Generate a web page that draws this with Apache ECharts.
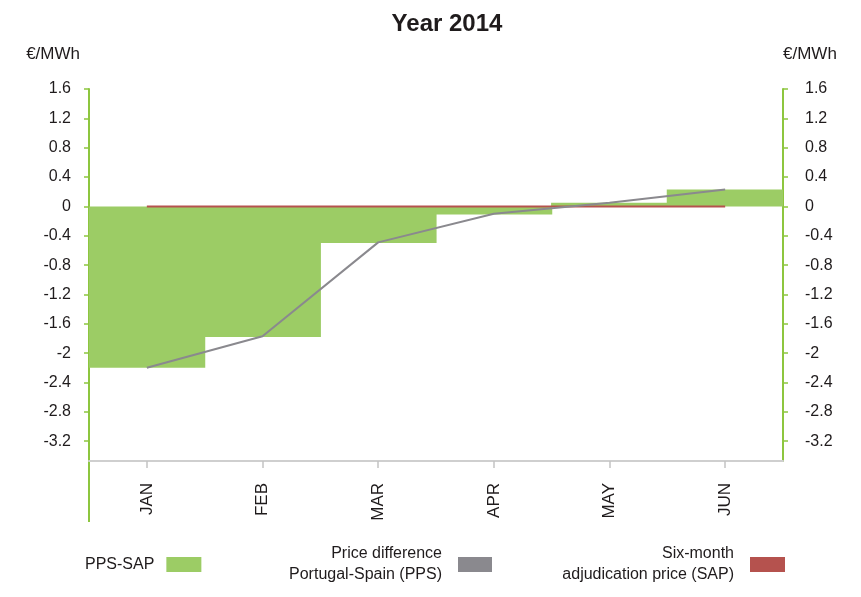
<!DOCTYPE html>
<html>
<head>
<meta charset="utf-8">
<script src="https://cdn.jsdelivr.net/npm/echarts@6/dist/echarts.min.js"></script>
<style>
  html, body { margin: 0; padding: 0; background: #fff; }
  #chart { width: 861px; height: 597px; }
</style>
</head>
<body>
<div id="chart"></div>
<script>
// Monthly price comparison, first half of 2014 (€/MWh)
const months = ['JAN', 'FEB', 'MAR', 'APR', 'MAY', 'JUN'];
const ppsMinusSap = [-2.2, -1.78, -0.5, -0.11, 0.05, 0.23];
const pps = [-2.2, -1.77, -0.49, -0.1, 0.05, 0.23];
const sap = [0, 0, 0, 0, 0, 0];
const yTicks = [1.6, 1.2, 0.8, 0.4, 0, -0.4, -0.8, -1.2, -1.6, -2, -2.4, -2.8, -3.2];

const FONT = '"Liberation Sans Narrow", "Liberation Sans", sans-serif';
const TEXT = '#1f1b1c';
const GREEN_AXIS = '#8dc63f';
const BAR = '#9ccc65';
const GREY = '#8a898e';
const RED = '#b5524e';

const Y_MIN = -3.47, Y_MAX = 1.6;

function valueAxis(side) {
  return {
    type: 'value',
    position: side,
    min: Y_MIN,
    max: Y_MAX,
    name: '€/MWh',
    nameLocation: 'end',
    nameGap: 26,
    nameTextStyle: {
      fontFamily: FONT, fontSize: 17, color: TEXT,
      align: side === 'left' ? 'right' : 'left',
      padding: side === 'left' ? [0, 9, 0, 0] : [0, 0, 0, 0]
    },
    axisLine: { show: true, onZero: false, lineStyle: { color: GREEN_AXIS, width: 2 } },
    axisTick: { show: true, length: 5, customValues: yTicks, lineStyle: { color: GREEN_AXIS, width: 1.5 } },
    axisLabel: {
      customValues: yTicks,
      margin: side === 'left' ? 18 : 22,
      fontFamily: FONT, fontSize: 16, color: TEXT,
      formatter: v => String(Math.round(v * 10) / 10)
    },
    splitLine: { show: false }
  };
}

const chart = echarts.init(document.getElementById('chart'), null, { renderer: 'canvas' });

chart.setOption({
  animation: false,
  backgroundColor: '#ffffff',
  title: {
    text: 'Year 2014',
    left: 442, textAlign: 'center',
    top: 7,
    textStyle: { fontFamily: FONT, fontSize: 24, fontWeight: 'bold', color: TEXT }
  },
  grid: { left: 89, right: 78, top: 89, bottom: 136, containLabel: false },
  xAxis: {
    type: 'category',
    data: months,
    boundaryGap: true,
    axisLine: { show: true, onZero: false, lineStyle: { color: '#cfcfcf', width: 2 } },
    axisTick: { show: true, alignWithLabel: true, length: 7, lineStyle: { color: '#c4c4c4', width: 1.5 } },
    axisLabel: { rotate: 90, margin: 22, fontFamily: FONT, fontSize: 17, color: TEXT }
  },
  yAxis: [valueAxis('left'), valueAxis('right')],
  legend: [
    {
      data: [{ name: 'PPS-SAP', itemStyle: { color: BAR } }],
      left: 85, top: 554, padding: 0, align: 'right',
      icon: 'rect', itemWidth: 35, itemHeight: 15,
      textStyle: { fontFamily: FONT, fontSize: 16, color: TEXT, lineHeight: 21, padding: [0, 7, 0, 0] }
    },
    {
      data: [{ name: 'Price difference\nPortugal-Spain (PPS)', itemStyle: { color: GREY } }],
      right: 369, top: 533, padding: 0, align: 'right',
      icon: 'rect', itemWidth: 34, itemHeight: 15,
      textStyle: { fontFamily: FONT, fontSize: 16, color: TEXT, lineHeight: 21, align: 'right', padding: [21, 11, 0, 0] }
    },
    {
      data: [{ name: 'Six-month\nadjudication price (SAP)', itemStyle: { color: RED } }],
      right: 76, top: 533, padding: 0, align: 'right',
      icon: 'rect', itemWidth: 35, itemHeight: 15,
      textStyle: { fontFamily: FONT, fontSize: 16, color: TEXT, lineHeight: 21, align: 'right', padding: [21, 11, 0, 0] }
    }
  ],
  // the left axis line runs on below the category axis
  graphic: [{
    type: 'line',
    shape: { x1: 89, y1: 461, x2: 89, y2: 522 },
    style: { stroke: GREEN_AXIS, lineWidth: 2 },
    silent: true
  }],
  series: [
    {
      name: 'PPS-SAP',
      type: 'bar',
      data: ppsMinusSap,
      barWidth: '101%',
      itemStyle: { color: BAR },
      z: 1
    },
    {
      name: 'Six-month\nadjudication price (SAP)',
      type: 'line',
      data: sap,
      symbol: 'none',
      lineStyle: { color: RED, width: 2 },
      itemStyle: { color: RED },
      z: 3
    },
    {
      name: 'Price difference\nPortugal-Spain (PPS)',
      type: 'line',
      data: pps,
      symbol: 'none',
      lineStyle: { color: GREY, width: 2 },
      itemStyle: { color: GREY },
      z: 4
    }
  ]
});
</script>
</body>
</html>
